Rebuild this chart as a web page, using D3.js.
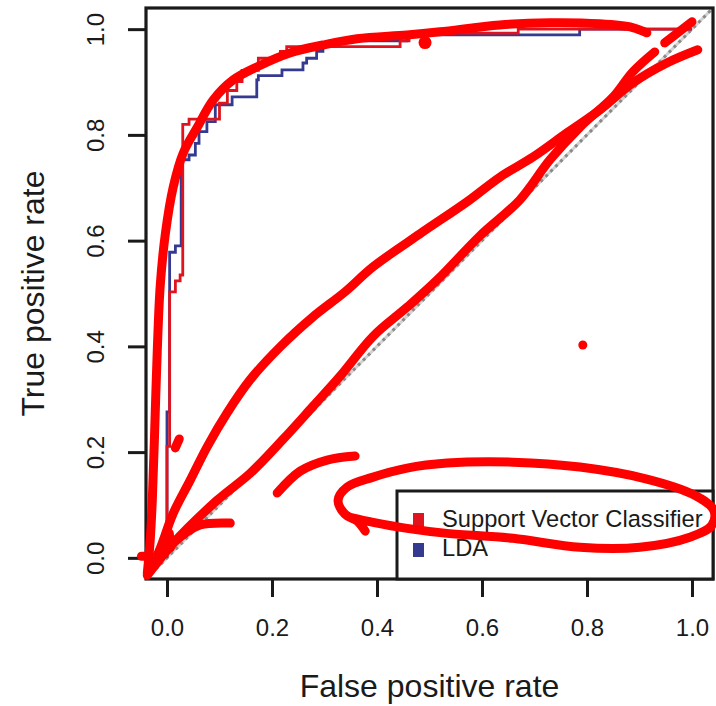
<!DOCTYPE html>
<html>
<head>
<meta charset="utf-8">
<script src="https://cdn.jsdelivr.net/npm/d3@7/dist/d3.min.js"></script>
<style>
  html, body { margin: 0; padding: 0; background: #ffffff; }
  svg text { font-family: "Liberation Sans", Arial, Helvetica, sans-serif; fill: #1a1a1a; }
</style>
</head>
<body>
<svg id="roc"></svg>
<script>
// ROC staircases, [false positive rate, true positive rate] after each step
const svcPoints = [
  [0, 0], [0, 0.211], [0.005, 0.503], [0.016, 0.524], [0.025, 0.535], [0.030, 0.820],
  [0.042, 0.830], [0.100, 0.860], [0.115, 0.884], [0.133, 0.901], [0.143, 0.922],
  [0.174, 0.945], [0.216, 0.958], [0.228, 0.967], [0.444, 0.978], [0.461, 0.9925],
  [0.669, 1.0], [1.0, 1.0]
];
const ldaPoints = [
  [0, 0], [0, 0.276], [0.005, 0.578], [0.016, 0.590], [0.027, 0.753], [0.042, 0.762],
  [0.054, 0.784], [0.061, 0.806], [0.076, 0.825], [0.092, 0.857], [0.124, 0.872],
  [0.171, 0.904], [0.174, 0.912], [0.219, 0.923], [0.259, 0.936], [0.266, 0.945],
  [0.285, 0.958], [0.297, 0.972], [0.311, 0.978], [0.457, 0.989], [0.786, 1.0], [1.0, 1.0]
];
const tickValues   = [0, 0.2, 0.4, 0.6, 0.8, 1.0];
const legendLabels = ["Support Vector Classifier", "LDA"];
const seriesColors = ["#e0141e", "#333a8f"];

// hand-drawn red marks on top of the figure, in data units
const scribbles = [
  [[-0.0375, -0.029], [-0.032, 0.0335], [-0.028, 0.109], [-0.024, 0.223], [-0.0185, 0.393], [-0.0128, 0.516],
   [-0.003, 0.614], [0.012, 0.702], [0.031, 0.766], [0.058, 0.815], [0.088, 0.866], [0.126, 0.904],
   [0.172, 0.929], [0.234, 0.955], [0.297, 0.970], [0.362, 0.982], [0.457, 0.989], [0.520, 0.995],
   [0.634, 1.008], [0.729, 1.012], [0.824, 1.010], [0.887, 1.003], [0.914, 0.993]],
  [[-0.032, -0.023], [-0.0128, 0.0184], [0.012, 0.0846], [0.0443, 0.147], [0.0767, 0.2105], [0.1147, 0.2745],
   [0.1585, 0.337], [0.2156, 0.399], [0.2784, 0.456], [0.339, 0.503], [0.392, 0.550], [0.482, 0.613],
   [0.571, 0.673], [0.634, 0.720], [0.697, 0.758], [0.762, 0.804], [0.824, 0.847], [0.887, 0.898],
   [0.952, 0.936], [1.011, 0.961]],
  [[-0.0375, -0.033], [0.012, 0.0278], [0.0957, 0.109], [0.1585, 0.160], [0.2213, 0.2245], [0.2784, 0.287],
   [0.330, 0.344], [0.3926, 0.419], [0.4573, 0.474], [0.5144, 0.5255], [0.596, 0.609], [0.672, 0.677],
   [0.7296, 0.753], [0.787, 0.815], [0.850, 0.872], [0.887, 0.919], [0.929, 0.957]],
  [[0.948, 0.974], [1.0, 1.014]],
  [[0.0158, 0.208], [0.0234, 0.225]],
  [[0.0006, 0.0184], [0.0348, 0.0467], [0.0634, 0.0624], [0.1205, 0.0657]],
  [[0.0044, 0.0468], [0.0063, 0.0184]],
  [[-0.0487, 0.003], [-0.0318, 0.003]],
  [[0.2099, 0.1225], [0.2537, 0.164], [0.305, 0.185], [0.3583, 0.1925]],
  [[0.3776, 0.0505], [0.3624, 0.0694], [0.339, 0.0827], [0.3259, 0.109], [0.3433, 0.134], [0.3926, 0.1527],
   [0.4573, 0.1697], [0.5334, 0.1792], [0.659, 0.181], [0.7865, 0.1717], [0.914, 0.149], [1.0053, 0.1183],
   [1.0415, 0.0899], [1.0377, 0.0615], [0.9958, 0.0388], [0.9006, 0.0199], [0.7865, 0.0199], [0.659, 0.0369],
   [0.5334, 0.0463], [0.4573, 0.0558], [0.3926, 0.0672], [0.349, 0.0767]]
];
const scribbleDots = [[0.4915, 0.9746, 6.5], [0.792, 0.4025, 4.5]];

const svg    = d3.select("#roc").attr("width", 716).attr("height", 706);
const margin = { top: 8, right: 3, bottom: 127, left: 146 };
const width  = 716 - margin.left - margin.right;
const height = 706 - margin.top - margin.bottom;

const x = d3.scaleLinear().domain([-0.04, 1.04]).range([0, width]);
const y = d3.scaleLinear().domain([-0.04, 1.04]).range([height, 0]);

const root = svg.append("g").attr("transform", `translate(${margin.left},${margin.top})`);

// reference diagonal (grey dotted)
const diag = [[-0.04, -0.04], [1.04, 1.04]];
const line = d3.line().x(d => x(d[0])).y(d => y(d[1]));
root.append("path").attr("d", line(diag)).attr("stroke", "#d2d2d2").attr("stroke-width", 3).attr("fill", "none");
root.append("path").attr("d", line(diag)).attr("stroke", "#8a8a8a").attr("stroke-width", 3)
  .attr("stroke-dasharray", "3,4").attr("fill", "none");

const step = d3.line().x(d => x(d[0])).y(d => y(d[1])).curve(d3.curveStepAfter);
root.append("path").datum(ldaPoints).attr("d", step).attr("fill", "none")
  .attr("stroke", seriesColors[1]).attr("stroke-width", 2.8);
root.append("path").datum(svcPoints).attr("d", step).attr("fill", "none")
  .attr("stroke", seriesColors[0]).attr("stroke-width", 2.8);

// axes
const xAxis = root.append("g").attr("transform", `translate(0,${height})`)
  .call(d3.axisBottom(x).tickValues(tickValues).tickSize(18).tickPadding(22).tickFormat(d3.format(".1f")));
const yAxis = root.append("g")
  .call(d3.axisLeft(y).tickValues(tickValues).tickSize(18).tickFormat(d3.format(".1f")));
[xAxis, yAxis].forEach(g => {
  g.select(".domain").remove();
  g.selectAll(".tick line").attr("stroke", "#1a1a1a").attr("stroke-width", 3);
  g.selectAll(".tick text").attr("font-size", 24).attr("font-family", null);
});
yAxis.selectAll(".tick text").attr("x", 0).attr("y", 0).attr("dy", 0).attr("text-anchor", "middle")
  .attr("transform", "translate(-41.7,0) rotate(-90)");

root.append("rect").attr("width", width).attr("height", height)
  .attr("fill", "none").attr("stroke", "#1a1a1a").attr("stroke-width", 3.2);

root.append("text").attr("x", width / 2).attr("y", height + 118).attr("text-anchor", "middle")
  .attr("font-size", 32).text("False positive rate");
root.append("text").attr("transform", `translate(-102,${height / 2}) rotate(-90)`).attr("text-anchor", "middle")
  .attr("font-size", 32).text("True positive rate");

// legend, bottom-right
const legend = root.append("g").attr("transform", `translate(${width - 316},${height - 88})`);
legend.append("rect").attr("width", 316).attr("height", 88).attr("fill", "#ffffff")
  .attr("stroke", "#1a1a1a").attr("stroke-width", 3);
legend.selectAll("rect.key").data(legendLabels).join("rect").attr("class", "key")
  .attr("x", 16).attr("y", (_, i) => 22 + i * 30).attr("width", 11).attr("height", 14)
  .attr("fill", (_, i) => seriesColors[i]);
legend.selectAll("text.key").data(legendLabels).join("text").attr("class", "key")
  .attr("x", 45).attr("y", (_, i) => 36 + i * 29).attr("font-size", 23.7).text(d => d);

// red annotations
const pen = d3.line().x(d => x(d[0])).y(d => y(d[1])).curve(d3.curveCatmullRom.alpha(0.5));
root.selectAll("path.scribble").data(scribbles).join("path").attr("class", "scribble")
  .attr("d", pen).attr("fill", "none").attr("stroke", "#ff0000").attr("stroke-width", 9)
  .attr("stroke-linecap", "round").attr("stroke-linejoin", "round");
root.selectAll("circle.scribble-dot").data(scribbleDots).join("circle").attr("class", "scribble-dot")
  .attr("cx", d => x(d[0])).attr("cy", d => y(d[1])).attr("r", d => d[2]).attr("fill", "#ff0000");
</script>
</body>
</html>
